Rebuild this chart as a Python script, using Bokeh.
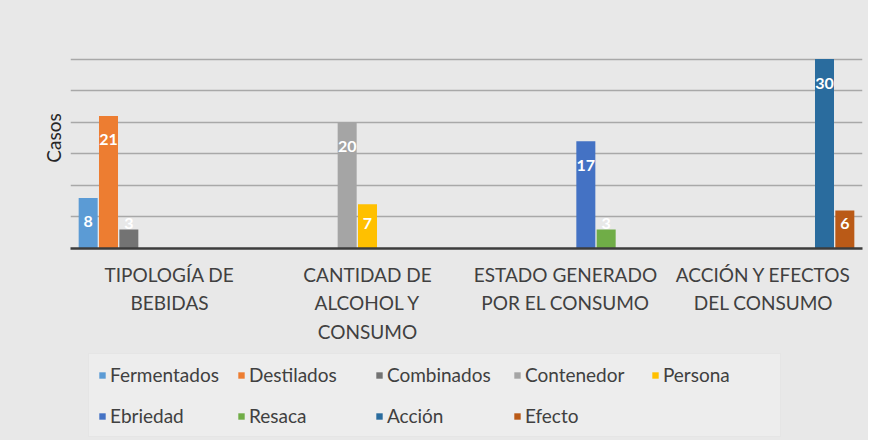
from bokeh.plotting import figure
from bokeh.models import ColumnDataSource, FactorRange, Range1d, FixedTicker, Legend, Title
from bokeh.layouts import column
from bokeh.transform import dodge
from bokeh.core.properties import value
from bokeh.embed import file_html
from bokeh.resources import INLINE

categories = ["TIPOLOGÍA DE\nBEBIDAS", "CANTIDAD DE\nALCOHOL Y\nCONSUMO",
              "ESTADO GENERADO\nPOR EL CONSUMO", "ACCIÓN Y EFECTOS\nDEL CONSUMO"]
series = ["Fermentados", "Destilados", "Combinados", "Contenedor", "Persona",
          "Ebriedad", "Resaca", "Acción", "Efecto"]
series_category = [0, 0, 0, 1, 1, 2, 2, 3, 3]
values = [8, 21, 3, 20, 7, 17, 3, 30, 6]
colors = ["#5B9BD5", "#ED7D31", "#737373", "#A5A5A5", "#FFC000",
          "#4472C4", "#70AD47", "#2A6C9E", "#BA5A17"]
y_ticks = [0, 5, 10, 15, 20, 25, 30, 35]

FONT = "Lato"
BG = "#e8e8e8"
W = 868

p = figure(width=W, height=350, x_range=FactorRange(*categories),
           y_range=Range1d(0, 35), output_backend="svg", toolbar_location=None,
           min_border_left=70, min_border_right=6, min_border_top=27,
           min_border_bottom=102)
p.background_fill_color = BG
p.border_fill_color = BG
p.outline_line_color = None

slot = (1 - 2 * 0.0379) / 9
bw = 0.096
for i, name in enumerate(series):
    off = -0.4621 + (i + 0.5) * slot
    v = values[i]
    src = ColumnDataSource(dict(cat=[categories[series_category[i]]], val=[v],
                                ly=[max(v - 3.8, 4.0)], txt=[str(v)]))
    p.vbar(x=dodge("cat", off, range=p.x_range), top="val", width=bw,
           source=src, fill_color=colors[i], line_color=None)
    p.text(x=dodge("cat", off, range=p.x_range), y="ly", text="txt", source=src,
           text_color="white", text_font=value(FONT), text_font_size="16px",
           text_font_style="bold", text_align="center", text_baseline="middle")

p.xgrid.grid_line_color = None
ticker = FixedTicker(ticks=y_ticks)
p.yaxis.ticker = ticker
p.ygrid.ticker = ticker
p.ygrid.grid_line_color = "#a8a8a8"
p.ygrid.grid_line_width = 1.5
p.yaxis.visible = False

ytitle = Title(text="Casos", align="center", text_font=FONT, text_font_size="19px",
               text_font_style="normal", text_color="#262626", standoff=12)
p.add_layout(ytitle, "left")

p.xaxis.axis_line_color = "#3c3c3c"
p.xaxis.axis_line_width = 2.5
p.xaxis.major_tick_line_color = None
p.xaxis.minor_tick_line_color = None
p.xaxis.major_label_text_font = FONT
p.xaxis.major_label_text_font_size = "19px"
p.xaxis.major_label_text_color = "#404040"
p.xaxis.major_label_text_line_height = 1.25
p.xaxis.major_label_standoff = 8

# legend strip: zero-height one-point renderers supply the swatches
q = figure(width=W, height=90, x_range=Range1d(0, 1), y_range=Range1d(0, 1),
           output_backend="svg", toolbar_location=None,
           x_axis_type=None, y_axis_type=None,
           min_border_left=70, min_border_right=6, min_border_top=0, min_border_bottom=0)
q.background_fill_color = BG
q.border_fill_color = BG
q.outline_line_color = None
q.grid.grid_line_color = None
items = []
for i, name in enumerate(series):
    r = q.vbar(x=[0.5], top=[0], bottom=[0], width=0.01,
               fill_color=colors[i], line_color=None)
    items.append((name, [r]))

legend = Legend(items=items, location=(18, 3), orientation="horizontal", ncols=5)
legend.label_text_font = FONT
legend.label_text_font_size = "19px"
legend.label_text_color = "#404040"
legend.glyph_width = 8
legend.glyph_height = 8
legend.label_standoff = 4
legend.label_width = 108
legend.label_height = 22
legend.spacing = 18
legend.padding = 9
legend.margin = 0
legend.background_fill_color = "#ededed"
legend.background_fill_alpha = 1
legend.border_line_color = "#dedede"
q.add_layout(legend, "center")

layout = column(p, q, spacing=0, styles={"background-color": BG})
open("out.html", "w").write(file_html(layout, INLINE))
